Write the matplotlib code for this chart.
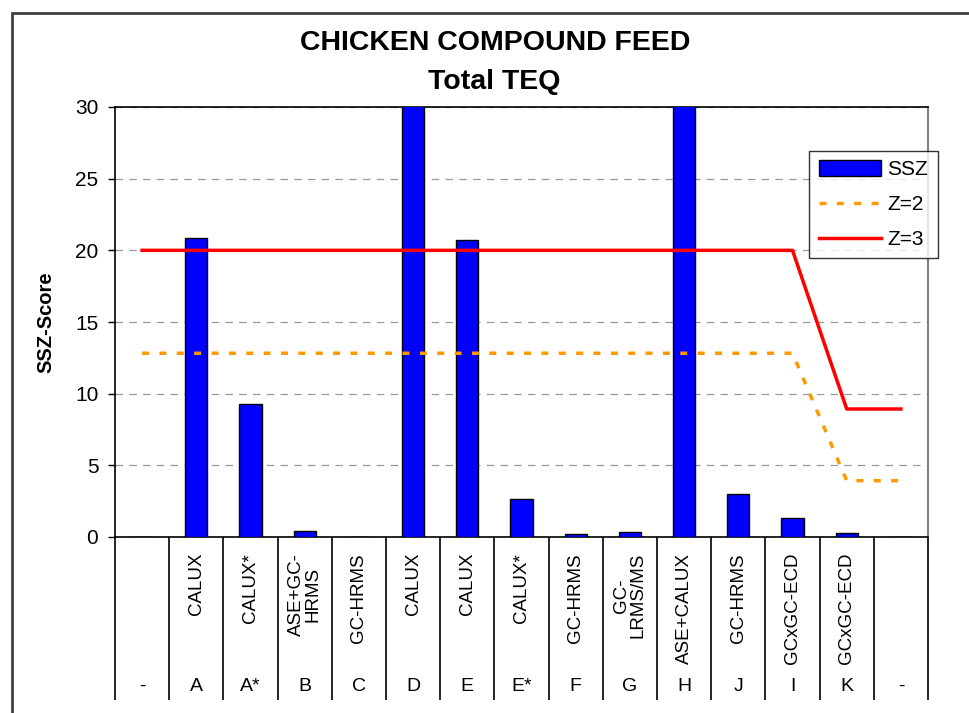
import matplotlib.pyplot as plt
import matplotlib.transforms as mtransforms
from matplotlib.patches import Rectangle
from matplotlib.lines import Line2D
from matplotlib.patches import Patch

plt.rcParams['font.family'] = ['Liberation Sans', 'DejaVu Sans']

# donnees
labos = ['-', 'A', 'A*', 'B', 'C', 'D', 'E', 'E*', 'F', 'G', 'H', 'J', 'I', 'K', '-']
methodes = ['', 'CALUX', 'CALUX*', 'ASE+GC-\nHRMS', 'GC-HRMS', 'CALUX', 'CALUX', 'CALUX*',
            'GC-HRMS', 'GC-\nLRMS/MS', 'ASE+CALUX', 'GC-HRMS', 'GCxGC-ECD', 'GCxGC-ECD', '']
ssz = [0, 20.85, 9.25, 0.42, 0, 35, 20.7, 2.65, 0.21, 0.33, 35, 2.97, 1.35, 0.26, 0]
z2 = [12.82] * 13 + [3.93, 3.93]
z3 = [20.0] * 13 + [8.93, 8.93]

fig = plt.figure(figsize=(9.7, 7.13), dpi=100)
ax = fig.add_axes([115/970, 1-537/713, 813/970, 430/713])

x = list(range(len(labos)))
ax.bar(x, ssz, width=0.41, color='#0000FF', edgecolor='black', linewidth=1, zorder=3)
ax.plot(x, z2, color='#FF9900', linewidth=2.5, linestyle=(0, (2, 3)), zorder=4)
ax.plot(x, z3, color='#FF0000', linewidth=2.5, zorder=4)

ax.set_xlim(-0.5, len(labos)-0.5)
ax.set_ylim(0, 30)
ax.set_yticks([0, 5, 10, 15, 20, 25, 30])
ax.yaxis.grid(True, color='#999999', linestyle=(0, (6, 5)), linewidth=0.9)
ax.tick_params(axis='y', direction='out', length=5, width=1, pad=7, labelsize=15)
ax.set_ylabel('SSZ-Score', fontsize=14.5, fontweight='bold', labelpad=14)

# tableau des categories sous l'axe
ax.set_xticks([])
ax.set_xticks([i - 0.5 for i in range(len(labos)+1)], minor=True)
ax.tick_params(axis='x', which='minor', direction='out', length=117, width=1.2, color='black')
ax.spines['top'].set_linewidth(1.2)
ax.spines['left'].set_linewidth(1.2)
ax.spines['bottom'].set_linewidth(1.2)
ax.spines['right'].set_color('#808080')
ax.spines['right'].set_linewidth(1.5)

trans = mtransforms.blended_transform_factory(ax.transData, ax.transAxes)
for i in x:
    ax.text(i, -0.037, methodes[i], transform=trans, rotation=90, ha='center', va='top',
            multialignment='center', fontsize=13.5, linespacing=1.0)
    ax.text(i, -0.347, labos[i], transform=trans, ha='center', va='center', fontsize=14)

# legende
poignees = [Patch(facecolor='#0000FF', edgecolor='black'),
            Line2D([], [], color='#FF9900', linewidth=2.5, linestyle=(0, (2, 3))),
            Line2D([], [], color='#FF0000', linewidth=2.5)]
leg = ax.legend(poignees, ['SSZ', 'Z=2', 'Z=3'], loc='upper left', bbox_to_anchor=(0.854, 0.898),
                fontsize=15, frameon=True, fancybox=False, edgecolor='black',
                handlelength=3.0, handleheight=0.8, borderpad=0.45, labelspacing=0.75,
                handletextpad=0.3, borderaxespad=0)
leg.get_frame().set_linewidth(1)

fig.text(0.51, 1-43/713, 'CHICKEN COMPOUND FEED', ha='center', va='center', fontsize=20.5, fontweight='bold')
fig.text(0.51, 1-82/713, 'Total TEQ', ha='center', va='center', fontsize=20.5, fontweight='bold')

# cadre exterieur
fig.patches.append(Rectangle((12/970, -0.1), 1.2, 1-13/713+0.1, transform=fig.transFigure,
                             fill=False, edgecolor='#404040', linewidth=2))

fig.savefig('out.png', dpi=100)
